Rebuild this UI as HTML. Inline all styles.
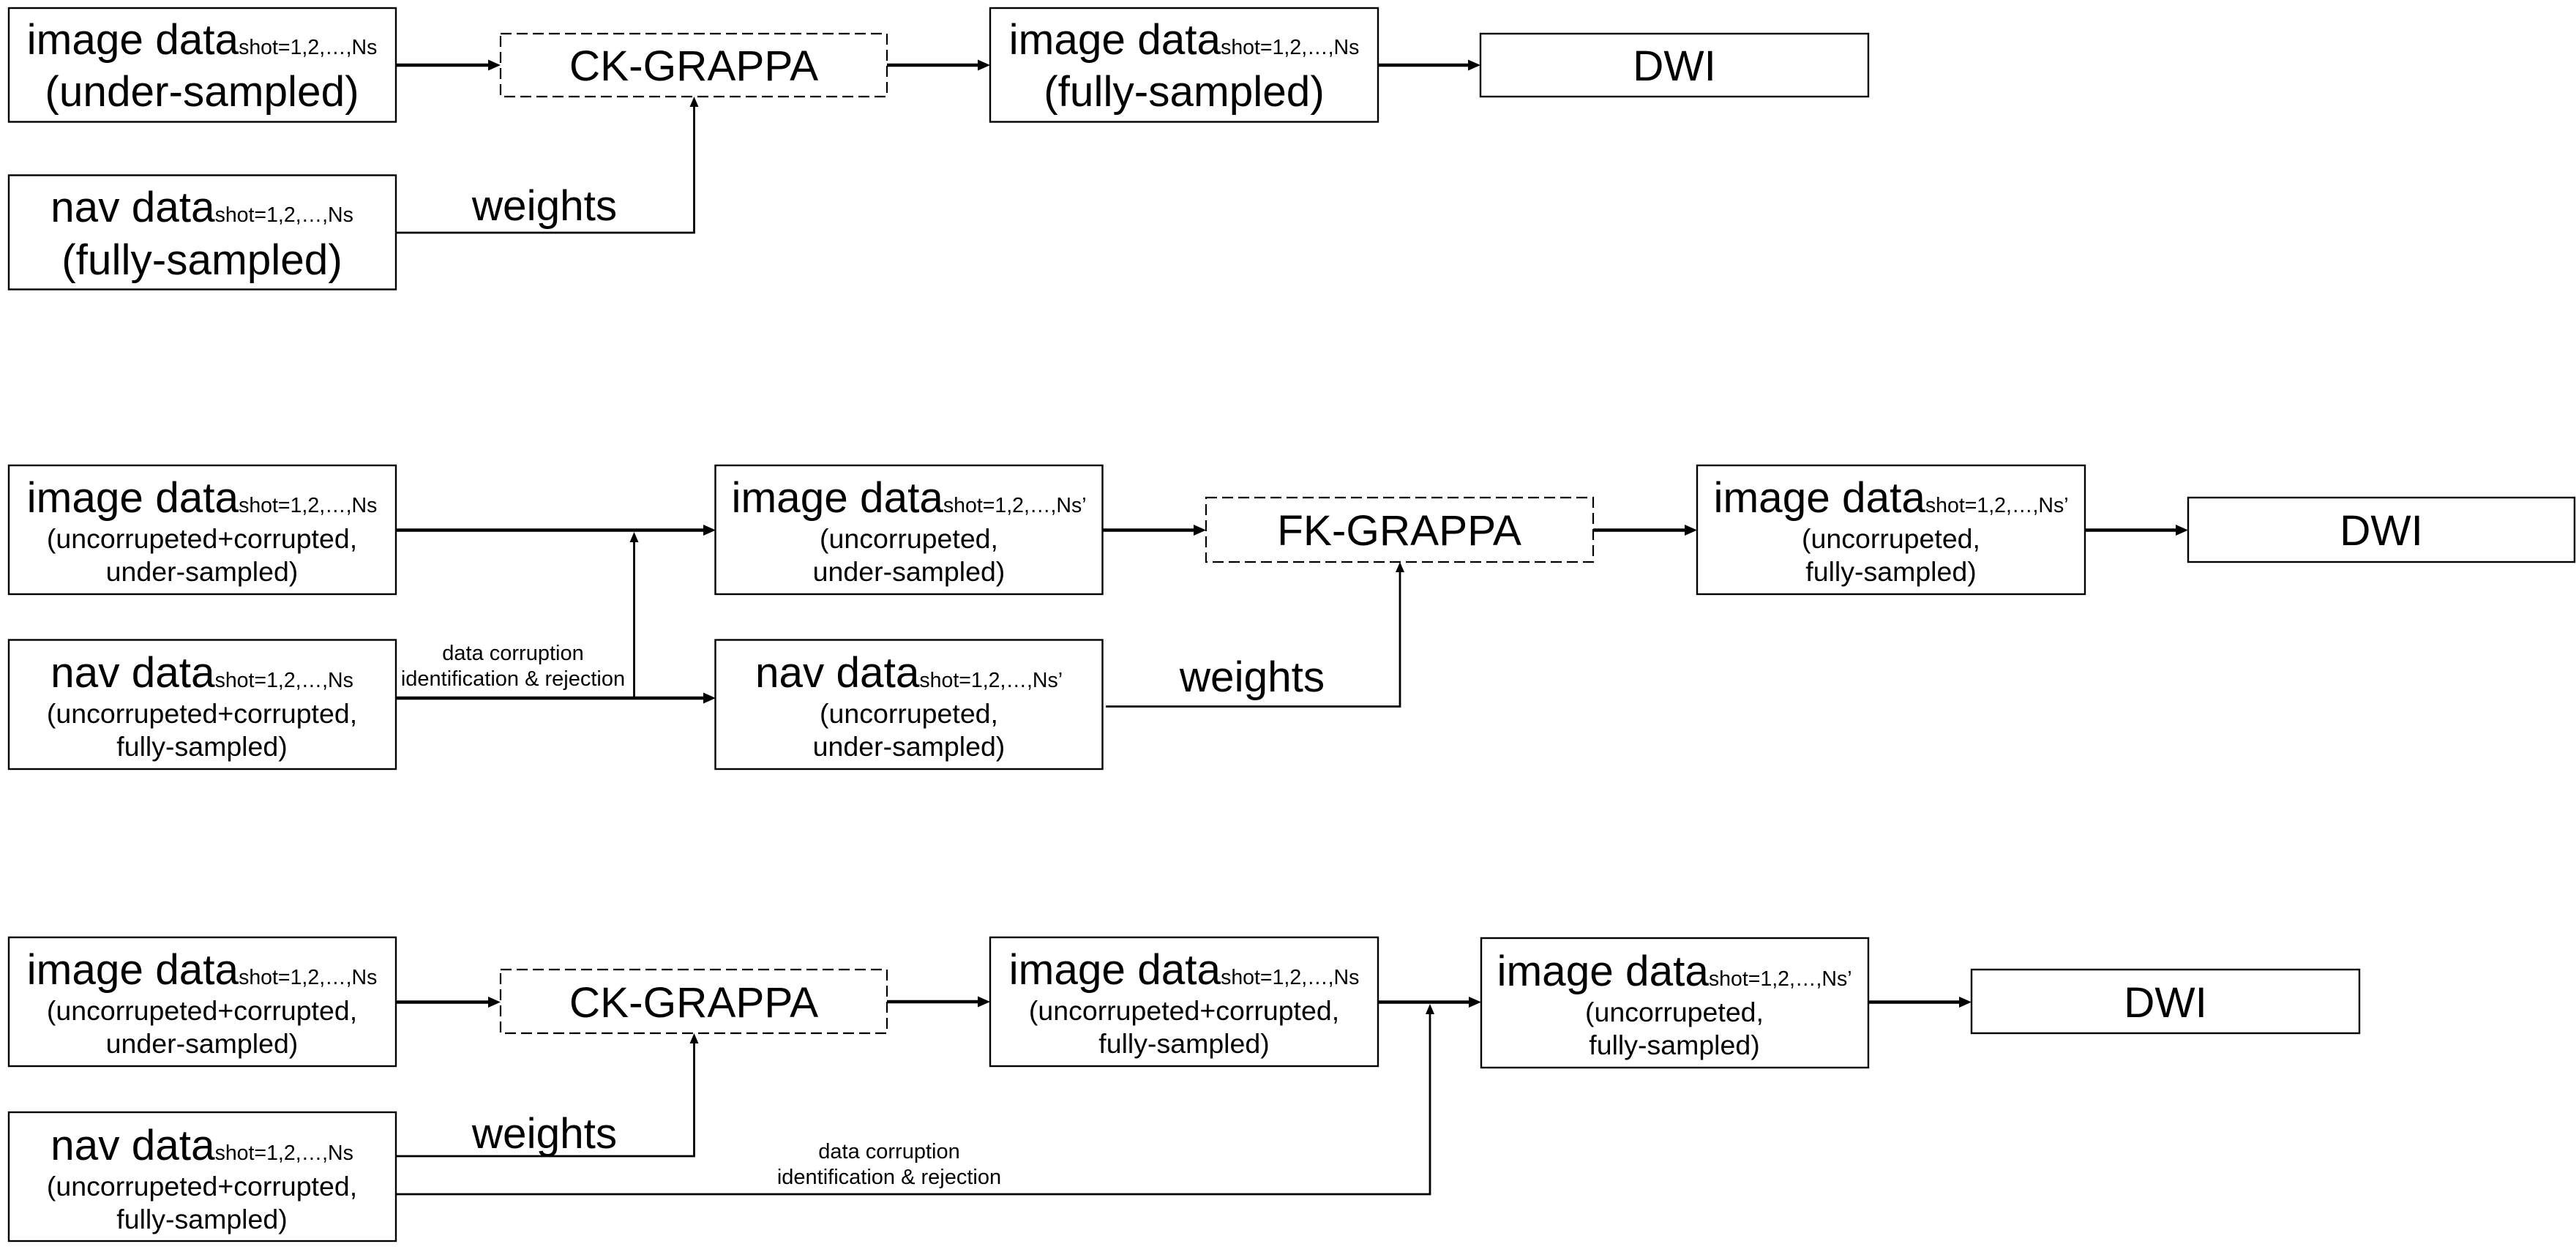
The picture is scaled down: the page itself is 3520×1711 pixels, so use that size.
<!DOCTYPE html>
<html><head><meta charset="utf-8"><title>Diagram</title>
<style>
html,body{margin:0;padding:0;background:#fff;width:3520px;height:1711px;overflow:hidden}
svg{display:block}
text{font-family:"Liberation Sans",sans-serif;fill:#000;text-anchor:middle}
.b{font-size:58.500px}.s{font-size:28.500px}.m{font-size:37.500px}.t{font-size:29px}
rect{fill:#fff;stroke:#000;stroke-width:2.400}
.d{stroke-dasharray:15 7;stroke-width:2.200}
.k{fill:none;stroke:#000;stroke-width:4.600}
.n{fill:none;stroke:#000;stroke-width:2.800}
polygon{fill:#000}
</style></head><body>
<svg width="3520" height="1711" viewBox="0 0 3520 1711" xmlns="http://www.w3.org/2000/svg">
<!-- Row 1 -->
<path class="k" d="M541 89H670M1212 89H1340M1883 89H2010"/>
<polygon points="684,89 667,81.500 667,96.500"/><polygon points="1353,89 1336,81.500 1336,96.500"/><polygon points="2023,89 2006,81.500 2006,96.500"/>
<path class="n" d="M541 318H948.500V144"/><polygon points="948.500,132 942.500,146 954.500,146"/>
<rect x="12" y="11" width="529" height="155.500"/><rect x="12" y="239.500" width="529" height="156"/>
<rect class="d" x="684" y="46" width="528" height="86"/>
<rect x="1353" y="11" width="530" height="155.500"/><rect x="2023" y="46" width="530" height="86"/>
<text x="276" y="74"><tspan class="b">image data</tspan><tspan class="s">shot=1,2,…,Ns</tspan></text>
<text class="b" x="276" y="145">(under-sampled)</text>
<text x="276" y="303"><tspan class="b">nav data</tspan><tspan class="s">shot=1,2,…,Ns</tspan></text>
<text class="b" x="276" y="375">(fully-sampled)</text>
<text class="b" x="948" y="110">CK-GRAPPA</text>
<text class="b" x="744" y="301">weights</text>
<text x="1618" y="74"><tspan class="b">image data</tspan><tspan class="s">shot=1,2,…,Ns</tspan></text>
<text class="b" x="1618" y="145">(fully-sampled)</text>
<text class="b" x="2288" y="110">DWI</text>
<!-- Row 2 -->
<path class="k" d="M541 724.500H964M541 954H964M1506 724.500H1634M2177 724.500H2305M2849 724.500H2976"/>
<polygon points="978,724.500 961,717 961,732"/><polygon points="978,954 961,946.500 961,961.500"/><polygon points="1648,724.500 1631,717 1631,732"/><polygon points="2319,724.500 2302,717 2302,732"/><polygon points="2990,724.500 2973,717 2973,732"/>
<path class="n" d="M866.500 954V738M1511 965.500H1913V780"/>
<polygon points="866.500,727 860.500,741 872.500,741"/><polygon points="1913,768 1907,782 1919,782"/>
<rect x="12" y="636" width="529" height="176"/><rect x="12" y="874.500" width="529" height="176.500"/>
<rect x="977.500" y="636" width="529" height="176"/><rect x="977.500" y="874.500" width="529" height="176.500"/>
<rect class="d" x="1648" y="680" width="529" height="88"/>
<rect x="2319" y="636" width="530" height="176"/><rect x="2990" y="680" width="528" height="88"/>
<text x="276" y="700"><tspan class="b">image data</tspan><tspan class="s">shot=1,2,…,Ns</tspan></text>
<text class="m" x="276" y="749">(uncorrupeted+corrupted,</text><text class="m" x="276" y="794">under-sampled)</text>
<text x="276" y="939"><tspan class="b">nav data</tspan><tspan class="s">shot=1,2,…,Ns</tspan></text>
<text class="m" x="276" y="988">(uncorrupeted+corrupted,</text><text class="m" x="276" y="1033">fully-sampled)</text>
<text class="t" x="701" y="902">data corruption</text><text class="t" x="701" y="937">identification &amp; rejection</text>
<text x="1242" y="700"><tspan class="b">image data</tspan><tspan class="s">shot=1,2,…,Ns’</tspan></text>
<text class="m" x="1242" y="749">(uncorrupeted,</text><text class="m" x="1242" y="794">under-sampled)</text>
<text x="1242" y="939"><tspan class="b">nav data</tspan><tspan class="s">shot=1,2,…,Ns’</tspan></text>
<text class="m" x="1242" y="988">(uncorrupeted,</text><text class="m" x="1242" y="1033">under-sampled)</text>
<text class="b" x="1711" y="945">weights</text>
<text class="b" x="1912" y="745">FK-GRAPPA</text>
<text x="2584" y="700"><tspan class="b">image data</tspan><tspan class="s">shot=1,2,…,Ns’</tspan></text>
<text class="m" x="2584" y="749">(uncorrupeted,</text><text class="m" x="2584" y="794">fully-sampled)</text>
<text class="b" x="3254" y="745">DWI</text>
<!-- Row 3 -->
<path class="k" d="M541 1369.500H670M1212 1369H1340M1883 1369.500H2010M2553 1369.500H2680"/>
<polygon points="684,1369.500 667,1362 667,1377"/><polygon points="1353,1369 1336,1361.500 1336,1376.500"/><polygon points="2024,1369.500 2007,1362 2007,1377"/><polygon points="2694,1369.500 2677,1362 2677,1377"/>
<path class="n" d="M541 1580H948.500V1424M541 1632H1954V1384"/>
<polygon points="948.500,1412 942.500,1426 954.500,1426"/><polygon points="1954,1372 1948,1386 1960,1386"/>
<rect x="12" y="1281" width="529" height="176"/><rect x="12" y="1520" width="529" height="176"/>
<rect class="d" x="684" y="1325" width="528" height="87"/>
<rect x="1353" y="1281" width="530" height="176"/><rect x="2024" y="1282" width="529" height="177"/>
<rect x="2694" y="1325" width="530" height="87"/>
<text x="276" y="1345"><tspan class="b">image data</tspan><tspan class="s">shot=1,2,…,Ns</tspan></text>
<text class="m" x="276" y="1394">(uncorrupeted+corrupted,</text><text class="m" x="276" y="1439">under-sampled)</text>
<text x="276" y="1585"><tspan class="b">nav data</tspan><tspan class="s">shot=1,2,…,Ns</tspan></text>
<text class="m" x="276" y="1634">(uncorrupeted+corrupted,</text><text class="m" x="276" y="1679">fully-sampled)</text>
<text class="b" x="948" y="1390">CK-GRAPPA</text>
<text class="b" x="744" y="1569">weights</text>
<text class="t" x="1215" y="1583">data corruption</text><text class="t" x="1215" y="1618">identification &amp; rejection</text>
<text x="1618" y="1345"><tspan class="b">image data</tspan><tspan class="s">shot=1,2,…,Ns</tspan></text>
<text class="m" x="1618" y="1394">(uncorrupeted+corrupted,</text><text class="m" x="1618" y="1439">fully-sampled)</text>
<text x="2288" y="1347"><tspan class="b">image data</tspan><tspan class="s">shot=1,2,…,Ns’</tspan></text>
<text class="m" x="2288" y="1396">(uncorrupeted,</text><text class="m" x="2288" y="1441">fully-sampled)</text>
<text class="b" x="2959" y="1390">DWI</text>
</svg>
</body></html>
